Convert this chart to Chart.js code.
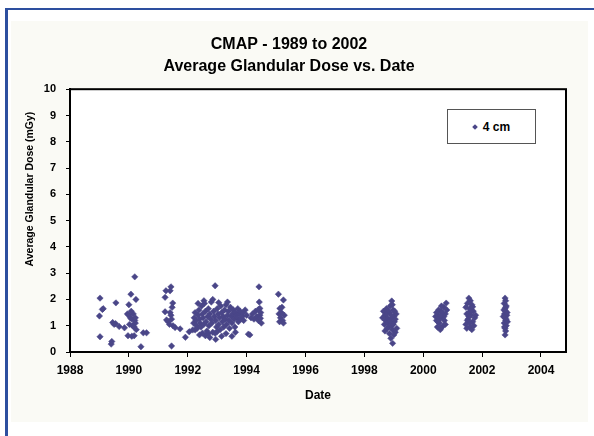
<!DOCTYPE html>
<html><head><meta charset="utf-8">
<script src="https://cdn.jsdelivr.net/npm/chart.js@4/dist/chart.umd.min.js"></script>
<style>
html,body{margin:0;padding:0;background:#fff;}
#wrap{position:relative;width:594px;height:436px;overflow:hidden;}
#frame{position:absolute;left:5px;top:8px;width:620px;height:460px;border-left:3px solid #2d4f9f;border-top:2px solid #2d4f9f;}
#panel{position:absolute;left:11px;top:21px;width:577px;height:401px;background:#fafaf5;}
canvas{position:absolute;left:0;top:0;}
#legend{position:absolute;left:447px;top:109px;width:87px;height:33px;border:1px solid #555;background:#fff;display:flex;align-items:center;justify-content:center;font:bold 12px "Liberation Sans",Arial,sans-serif;color:#000;}
.mk{display:inline-block;width:4px;height:4px;background:#4a4688;transform:rotate(45deg);margin-right:6px;}
</style></head>
<body><div id="wrap"><div id="frame"></div><div id="panel"></div><canvas id="c" width="594" height="436"></canvas><div id="legend"></div></div>
<script>
const titleLines = ['CMAP - 1989 to 2002', 'Average Glandular Dose vs. Date'];
const xTitle = 'Date';
const yTitle = 'Average Glandular Dose (mGy)';
const seriesName = '4 cm';
const xTicks = [1988, 1990, 1992, 1994, 1996, 1998, 2000, 2002, 2004];
const yTicks = [0, 1, 2, 3, 4, 5, 6, 7, 8, 9, 10];
const xMin = 1988, xMax = 2004.85, yMin = 0, yMax = 10;

const dates1989 = [1989.02,1989.10,1989.13,1989.00,1989.02,1989.42,1989.40,1989.56,1989.45,1989.50,1989.55,1989.67,1989.85,1990.00,1990.07,1990.24,1990.20,1989.95,1990.00,1990.05,1990.10,1990.15,1990.20,1990.22,1990.02,1990.12,1990.18,1990.25,1989.97,1990.10,1990.18,1990.41,1990.49,1990.60,1990.08,1990.22];
const doses1989 = [2.05,1.62,1.65,1.37,0.58,0.40,0.30,1.87,1.12,1.05,1.08,0.97,0.92,1.80,2.20,2.00,2.86,1.45,1.40,1.30,1.25,1.45,1.20,1.10,1.05,1.00,0.95,0.85,0.62,0.60,0.62,0.20,0.73,0.73,1.55,1.30];

const dates1991 = [1991.26,1991.43,1991.40,1991.23,1991.49,1991.47,1991.23,1991.40,1991.43,1991.28,1991.34,1991.50,1991.57,1991.74,1991.45,1991.92,1991.45,1991.38];
const doses1991 = [2.33,2.48,2.33,2.08,1.86,1.70,1.53,1.50,1.40,1.22,1.15,1.00,0.93,0.88,0.23,0.56,1.25,1.05];

const dates1992 = [1992.05,1992.17,1992.25,1992.20,1992.22,1992.25,1992.28,1992.30,1992.32,1992.35,1992.38,1992.40,1992.42,1992.45,1992.47,1992.50,1992.52,1992.55,1992.57,1992.60,1992.62,1992.65,1992.68,1992.70,1992.72,1992.75,1992.78,1992.80,1992.85,1992.93,1992.82,1992.85,1992.88,1992.90,1992.93,1992.95,1992.98,1993.00,1993.03,1993.05,1993.08,1993.10,1993.12,1993.15,1993.18,1993.20,1993.22,1993.25,1993.28,1993.30,1993.32,1993.35,1993.38,1993.40,1993.42,1993.45,1993.48,1993.50,1993.52,1993.55,1993.58,1993.60,1993.62,1993.65,1993.68,1993.70,1993.72,1993.75,1993.78,1993.80,1993.85,1993.88,1993.90,1993.95,1994.00,1994.06,1994.11,1994.15,1994.20,1994.25,1994.30,1994.35,1994.40,1994.42,1994.43,1994.45,1994.45,1994.48,1994.50,1994.47,1994.40,1992.60,1992.75,1992.95,1993.15,1992.40,1992.50,1992.70,1993.00,1993.30,1993.50,1993.62,1992.35,1992.55,1993.05,1993.35];
const doses1992 = [0.77,0.84,0.84,1.10,1.30,1.50,1.20,1.00,0.90,1.40,1.60,1.25,1.10,0.95,1.75,1.45,1.30,1.05,1.85,1.55,1.15,0.80,1.35,1.65,1.00,1.45,1.25,1.90,2.00,2.52,1.10,0.75,1.55,1.35,0.71,1.20,0.95,1.65,1.45,1.05,1.30,0.85,1.75,1.50,1.15,1.35,0.95,1.60,1.25,1.80,1.05,1.40,1.55,1.20,0.90,1.70,1.35,1.10,1.45,1.60,1.25,0.95,1.50,1.40,1.30,1.65,1.15,1.45,1.55,1.25,1.35,1.50,1.20,1.60,1.40,0.68,0.65,1.30,1.45,1.25,1.55,1.35,1.20,2.48,1.90,1.66,1.40,1.50,1.10,1.28,1.62,0.62,0.55,0.48,0.60,0.65,0.72,0.70,0.78,0.70,0.60,0.75,1.85,1.95,1.88,1.90];

const dates1995 = [1995.08,1995.25,1995.13,1995.20,1995.10,1995.15,1995.22,1995.28,1995.12,1995.25,1995.18];
const doses1995 = [2.20,1.98,1.66,1.70,1.45,1.30,1.20,1.40,1.15,1.10,1.50];

const dates1998 = [1998.93,1998.96,1998.90,1998.65,1998.70,1998.72,1998.68,1998.75,1998.78,1998.80,1998.82,1998.85,1998.88,1998.90,1998.92,1998.95,1998.98,1999.00,1999.02,1999.05,1999.08,1999.10,1998.70,1998.85,1998.95,1998.75,1998.88,1999.00,1998.80,1998.98,1998.62,1999.05,1998.92,1998.78,1999.03];
const doses1998 = [1.94,0.33,0.52,1.55,1.40,1.20,1.05,1.65,1.30,1.10,0.95,1.50,1.75,1.25,1.00,0.85,1.60,1.35,1.15,0.75,1.45,0.90,0.80,0.70,1.80,1.45,1.15,0.65,1.58,1.05,1.30,1.25,1.40,0.90,1.55];

const dates2000 = [2000.45,2000.50,2000.55,2000.60,2000.65,2000.70,2000.75,2000.78,2000.48,2000.58,2000.68,2000.72,2000.52,2000.62,2000.42,2000.55,2000.65,2000.75,2000.60,2000.70,2000.50,2000.80,2000.45,2000.58];
const doses2000 = [1.20,1.40,1.10,1.55,1.30,1.70,1.45,1.86,0.95,0.85,1.00,1.20,1.60,1.75,1.35,1.25,1.50,1.05,0.92,1.35,1.15,1.60,1.50,1.38];

const dates2001 = [2001.55,2001.60,2001.50,2001.65,2001.45,2001.58,2001.70,2001.48,2001.62,2001.75,2001.52,2001.68,2001.45,2001.58,2001.65,2001.55,2001.72,2001.50,2001.62,2001.78,2001.48,2001.60,2001.68,2001.55];
const doses2001 = [2.05,1.95,1.85,1.80,1.70,1.65,1.55,1.45,1.40,1.30,1.25,1.15,1.05,0.95,0.85,1.50,1.00,1.20,1.60,1.40,0.90,1.10,1.72,1.35];

const dates2002 = [2002.78,2002.80,2002.75,2002.82,2002.78,2002.80,2002.76,2002.84,2002.78,2002.80,2002.75,2002.82,2002.78,2002.80,2002.78,2002.72,2002.85,2002.74,2002.86,2002.76,2002.80,2002.82];
const doses2002 = [2.05,1.95,1.85,1.75,1.65,1.55,1.45,1.40,1.30,1.20,1.10,1.00,0.90,0.80,0.65,1.35,1.50,1.60,1.15,0.95,1.70,1.25];

const allDates = [].concat(dates1989, dates1991, dates1992, dates1995, dates1998, dates2000, dates2001, dates2002);
const allDoses = [].concat(doses1989, doses1991, doses1992, doses1995, doses1998, doses2000, doses2001, doses2002);
const points = allDates.map((d, i) => ({x: d, y: allDoses[i]}));

const FONT = '"Liberation Sans", Arial, sans-serif';
const markColor = '#4a4688';

const framePlugin = {
  id: 'frameBox',
  beforeDatasetsDraw(chart) {
    const {ctx, chartArea: a} = chart;
    ctx.save();
    ctx.fillStyle = '#ffffff';
    ctx.fillRect(a.left, a.top, a.right - a.left, a.bottom - a.top);
    ctx.restore();
  },
  afterDraw(chart) {
    const {ctx, chartArea: a} = chart;
    ctx.save();
    ctx.strokeStyle = '#000';
    ctx.lineWidth = 2;
    ctx.strokeRect(a.left, a.top, a.right - a.left, a.bottom - a.top);
    ctx.translate(30, a.top + (a.bottom - a.top) * 0.38);
    ctx.rotate(-Math.PI / 2);
    ctx.font = 'bold 10.5px ' + FONT;
    ctx.fillStyle = '#000';
    ctx.textAlign = 'center';
    ctx.textBaseline = 'middle';
    ctx.fillText(yTitle, 0, 0);
    ctx.restore();
  }
};

const chart = new Chart(document.getElementById('c'), {
  type: 'scatter',
  data: {
    datasets: [{
      label: seriesName,
      data: points,
      pointStyle: 'rectRot',
      pointRadius: 3.2,
      backgroundColor: markColor,
      borderColor: markColor,
      borderWidth: 0.5
    }]
  },
  options: {
    responsive: false,
    animation: false,
    devicePixelRatio: 1,
    layout: {padding: {left: 12, right: 28, top: 0, bottom: 30}},
    plugins: {
      legend: {display: false},
      tooltip: {enabled: false},
      title: {
        display: true,
        text: titleLines,
        color: '#000',
        font: {family: FONT, size: 16, weight: 'bold', lineHeight: 1.35},
        padding: {top: 34, bottom: 12}
      }
    },
    scales: {
      x: {
        type: 'linear',
        min: xMin, max: xMax,
        afterBuildTicks: ax => { ax.ticks = xTicks.map(v => ({value: v})); },
        afterFit: s => { s.height = 54; },
        ticks: {
          callback: v => String(v),
          color: '#000',
          font: {family: FONT, size: 12, weight: 'bold'},
          padding: 6, maxRotation: 0, autoSkip: false, includeBounds: false
        },
        grid: {drawOnChartArea: false, drawTicks: true, tickLength: 5, color: '#000', lineWidth: 1},
        border: {display: true, color: '#000', width: 2},
        title: {display: true, text: xTitle, color: '#000', font: {family: FONT, size: 12, weight: 'bold'}, padding: {top: 0, bottom: 3}}
      },
      y: {
        min: yMin, max: yMax,
        afterBuildTicks: ax => { ax.ticks = yTicks.map(v => ({value: v})); },
        afterFit: s => { s.width = 58; },
        ticks: {
          callback: v => String(v),
          color: '#000',
          font: {family: FONT, size: 11, weight: 'bold'},
          padding: 10, includeBounds: false
        },
        grid: {drawOnChartArea: false, drawTicks: true, tickLength: 4, color: '#000', lineWidth: 1},
        border: {display: true, color: '#000', width: 2}
      }
    }
  },
  plugins: [framePlugin]
});

document.getElementById('legend').innerHTML = '<span class="mk"></span>' + chart.data.datasets[0].label;
</script>
</body></html>
